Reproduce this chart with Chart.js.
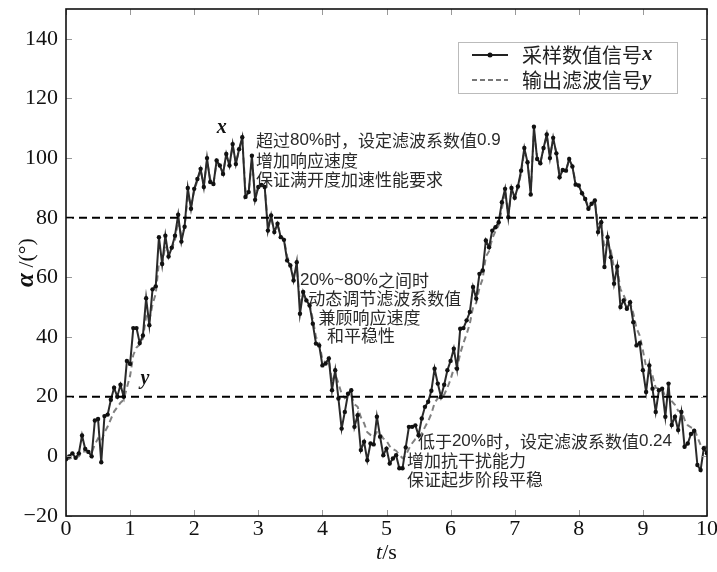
<!DOCTYPE html>
<html>
<head>
<meta charset="utf-8">
<script src="https://cdn.jsdelivr.net/npm/chart.js@4.4.1/dist/chart.umd.min.js"></script>
<style>
    html, body { margin: 0; padding: 0; background: #fff; }
    #wrap { width: 717px; height: 572px; }
</style>
</head>
<body>
<div id="wrap"><canvas id="chart" width="717" height="572"></canvas></div>
<script>
// sampling interval of the signal (s)
const SAMPLE_STEP = 0.05;

// sampled signal x (degrees), one value per sample
const sampledX = [
    -1, 0, 1, -0.5, 1, 7, 2.5, 1.5, 0, 12,
    12.5, -2, 13.5, 14, 19, 23, 20, 24, 20, 32,
    31, 43, 43, 38, 40.5, 53, 44, 56, 57, 73.5,
    64.5, 74, 67, 70, 74, 81, 72, 77, 90, 83,
    89.7, 93, 96.4, 90.3, 100, 92, 91.3, 99.2, 97.5, 94.7,
    101.4, 97.5, 104.7, 98, 103, 107, 87, 88.6, 100.8, 86,
    90.3, 91, 90.3, 75.7, 80.8, 75.2, 78, 73.5, 72.6, 65.7,
    64, 59, 65.1, 47.8, 55.1, 52.3, 50.6, 44.5, 37.8, 37.2,
    30.5, 31.1, 32.8, 22.2, 28.9, 19.4, 9.3, 14.9, 21, 22.2,
    9.9, 13.8, 2.1, 4.9, -1.3, 4.3, 4, 13.3, 6.6, 0.4,
    2.6, -2.4, -0.7, 0.4, -4, -4, 3, 9.9, 9.9, 10.4,
    7.1, 12.7, 16.6, 18.3, 22, 29.4, 24.4, 19.9, 24, 28.9,
    32, 36.1, 29.4, 42.8, 43, 45.6, 48.4, 56.8, 52.9, 61.2,
    62.3, 72.4, 70.1, 75.7, 76.8, 78.5, 85.2, 89.7, 80.2, 90,
    86.7, 90.5, 95.8, 103.4, 98.6, 87.8, 110.5, 99.7, 98.3, 103.4,
    107.9, 100, 106.8, 101.6, 93.6, 96, 95.8, 99.7, 97.2, 91.1,
    90.8, 88.2, 86.3, 83, 84.7, 85.8, 75.2, 78.5, 63.5, 73.5,
    66.8, 57.9, 63.7, 50.1, 52.3, 49.5, 51.7, 45, 37.2, 37.9,
    28.9, 21.6, 30.5, 22.7, 14.9, 22.2, 22.7, 13.3, 24.4, 10.5,
    13.3, 8.8, 14.9, 3.2, 4.3, 7.5, 8.6, -2.9, -4.6, 2.7,
    1
];

// filtered output y (degrees)
const filteredY = [
    -1, -0.8, -0.3, -0.3, 0, 1.5, 1.7, 1.6, 1.2, 4,
    6, 5, 8, 10, 12.5, 15, 16.5, 18, 19, 23,
    27, 34, 36.5, 37.5, 39.5, 47, 45.5, 51, 54.5, 65,
    64.8, 70.5, 68.5, 69.5, 72.5, 79, 74, 76.5, 88, 84,
    89, 92.5, 96, 91, 99, 93, 91.5, 98.5, 97.5, 95,
    101, 98, 104, 98.5, 102.5, 106.5, 89, 88.5, 99.5, 87.5,
    90, 91, 90.5, 77.5, 80, 75.5, 77.5, 74, 73, 67,
    64.5, 60, 63.5, 51.5, 54, 52.5, 51, 46, 40, 38,
    32.5, 31.5, 32.5, 25, 27.5, 24.5, 21, 19.5, 19.9, 20.5,
    17.5, 16.6, 13.1, 11.1, 8.1, 7.2, 6.4, 8.1, 7.7, 6,
    5.2, 3.4, 2.4, 1.9, 0.5, -0.6, 0.3, 2.6, 4.4, 5.8,
    6.1, 7.7, 9.8, 11.8, 14.3, 17.9, 19.5, 19.6, 20.7, 23,
    25.8, 29.5, 29.5, 34.5, 38, 41, 44.5, 50, 51.5, 56.5,
    59.5, 67, 68.8, 73, 75.5, 77.5, 83, 89, 81, 89,
    87, 90, 95, 102.5, 99, 89, 108.5, 100.5, 98.5, 103,
    107.5, 101, 106, 102, 94.5, 96, 96, 99.3, 97.4, 91.7,
    90.9, 88.5, 86.5, 83.5, 84.5, 85.5, 78, 78, 70, 71.5,
    69, 63, 63, 56, 54, 51.5, 51.5, 48, 43, 40.5,
    35.5, 30, 30, 27, 23, 22.7, 22.7, 20, 21, 18.5,
    17.3, 15.3, 15.2, 12.3, 10.4, 9.7, 9.4, 6.5, 3.8, 3.5,
    2.9
];

// threshold lines (20% and 80%)
const thresholds = [20, 80];

const xTicks = [0, 1, 2, 3, 4, 5, 6, 7, 8, 9, 10];
const yTicks = [-20, 0, 20, 40, 60, 80, 100, 120, 140];

// annotation text, anchored in data coordinates (t, value) at the left/middle of each line
const notes = [
    { t: 2.965, v: 105.9, text: "超过80%时，设定滤波系数值0.9" },
    { t: 2.965, v: 99.2, text: "增加响应速度" },
    { t: 2.965, v: 92.7, text: "保证满开度加速性能要求" },
    { t: 3.65, v: 59.1, text: "20%~80%之间时" },
    { t: 3.78, v: 52.9, text: "动态调节滤波系数值" },
    { t: 3.94, v: 46.7, text: "兼顾响应速度" },
    { t: 4.07, v: 40.5, text: "和平稳性" },
    { t: 5.49, v: 4.9, text: "低于20%时，设定滤波系数值0.24" },
    { t: 5.32, v: -1.3, text: "增加抗干扰能力" },
    { t: 5.32, v: -7.9, text: "保证起步阶段平稳" }
];

const curveLabels = [
    { t: 2.43, v: 110, text: "x" },
    { t: 1.23, v: 26, text: "y" }
];

const SERIF = "'Liberation Serif', 'DejaVu Serif', serif";
const CJK = "'Noto Sans CJK SC', 'Noto Sans', sans-serif";
const SANS = "'Liberation Sans', Arial, sans-serif";

function toPoints(values) {
    return values.map((v, i) => ({ x: +(i * SAMPLE_STEP).toFixed(2), y: v }));
}

// draws a list of {text, font} pieces one after another
function drawRuns(ctx, x, y, runs, align) {
    let total = 0;
    runs.forEach((r) => { ctx.font = r.font; total += ctx.measureText(r.text).width; });
    let cx = align === "center" ? x - total / 2 : x;
    runs.forEach((r) => {
        ctx.font = r.font;
        ctx.fillText(r.text, cx, y);
        cx += ctx.measureText(r.text).width;
    });
}

function noteRuns(text) {
    return text.split(/([0-9.%~]+)/).filter(s => s).map((s) => ({
        text: s,
        font: /^[0-9.%~]+$/.test(s) ? "17px " + SANS : "17px " + CJK
    }));
}

const decorPlugin = {
    id: "decor",
    afterDraw(chart) {
        const { ctx, chartArea: a, scales } = chart;
        const xs = scales.x, ys = scales.y;
        ctx.save();

        // inward tick marks
        ctx.strokeStyle = "#999";
        ctx.lineWidth = 1;
        ctx.beginPath();
        xTicks.forEach((t) => {
            const px = Math.round(xs.getPixelForValue(t)) + 0.5;
            ctx.moveTo(px, a.bottom); ctx.lineTo(px, a.bottom - 6);
            ctx.moveTo(px, a.top); ctx.lineTo(px, a.top + 6);
        });
        yTicks.forEach((v) => {
            const py = Math.round(ys.getPixelForValue(v)) + 0.5;
            ctx.moveTo(a.left, py); ctx.lineTo(a.left + 6, py);
            ctx.moveTo(a.right, py); ctx.lineTo(a.right - 6, py);
        });
        ctx.stroke();

        // frame
        ctx.strokeStyle = "#111";
        ctx.lineWidth = 1.6;
        ctx.strokeRect(a.left, a.top, a.right - a.left, a.bottom - a.top);

        // annotations
        ctx.fillStyle = "#2a2a2a";
        ctx.textBaseline = "middle";
        ctx.textAlign = "left";
        notes.forEach((n) => {
            drawRuns(ctx, xs.getPixelForValue(n.t), ys.getPixelForValue(n.v), noteRuns(n.text));
        });

        ctx.fillStyle = "#111";
        ctx.textAlign = "center";
        curveLabels.forEach((c) => {
            ctx.font = "italic bold 20px " + SERIF;
            ctx.fillText(c.text, xs.getPixelForValue(c.t), ys.getPixelForValue(c.v));
        });

        // legend
        ctx.textAlign = "left";
        const lx = a.right - 249, ly = a.top + 33, lw = 219, lh = 51;
        ctx.fillStyle = "#fff";
        ctx.fillRect(lx, ly, lw, lh);
        ctx.strokeStyle = "#bbb";
        ctx.lineWidth = 1;
        ctx.strokeRect(lx + 0.5, ly + 0.5, lw, lh);

        const row1 = ly + 13, row2 = ly + 38;
        ctx.strokeStyle = "#222";
        ctx.lineWidth = 2;
        ctx.beginPath(); ctx.moveTo(lx + 14, row1); ctx.lineTo(lx + 50, row1); ctx.stroke();
        ctx.fillStyle = "#111";
        ctx.beginPath(); ctx.arc(lx + 32, row1, 2.5, 0, Math.PI * 2); ctx.fill();

        ctx.strokeStyle = "#777";
        ctx.setLineDash([5, 3]);
        ctx.beginPath(); ctx.moveTo(lx + 14, row2); ctx.lineTo(lx + 50, row2); ctx.stroke();
        ctx.setLineDash([]);

        ctx.fillStyle = "#222";
        drawRuns(ctx, lx + 64, row1, [
            { text: "采样数值信号", font: "20px " + CJK },
            { text: "x", font: "italic bold 21px " + SERIF }
        ]);
        drawRuns(ctx, lx + 64, row2, [
            { text: "输出滤波信号", font: "20px " + CJK },
            { text: "y", font: "italic bold 21px " + SERIF }
        ]);

        // axis titles
        ctx.fillStyle = "#111";
        drawRuns(ctx, (a.left + a.right) / 2, 553, [
            { text: "t", font: "italic 22px " + SERIF },
            { text: "/s", font: "22px " + SERIF }
        ], "center");

        ctx.translate(27, (a.top + a.bottom) / 2);
        ctx.rotate(-Math.PI / 2);
        drawRuns(ctx, 0, 0, [
            { text: "α", font: "italic bold 25px " + SERIF },
            { text: " /(°)", font: "22px " + SERIF }
        ], "center");

        ctx.restore();
    }
};

function initialiseChart() {
    const canvas = document.getElementById("chart");
    if (!canvas || typeof Chart === "undefined") return;

    const thresholdSets = thresholds.map((level) => ({
        data: [{ x: xTicks[0], y: level }, { x: xTicks[xTicks.length - 1], y: level }],
        borderColor: "#000",
        borderWidth: 2,
        borderDash: [8, 5],
        pointRadius: 0,
        tension: 0
    }));

    new Chart(canvas, {
        type: "line",
        data: {
            datasets: [
                ...thresholdSets,
                {
                    label: "采样数值信号x",
                    data: toPoints(sampledX),
                    borderColor: "#2a2a2a",
                    borderWidth: 2,
                    pointRadius: 2.2,
                    pointBackgroundColor: "#111",
                    pointBorderWidth: 0,
                    tension: 0
                },
                {
                    label: "输出滤波信号y",
                    data: toPoints(filteredY),
                    borderColor: "#808080",
                    borderWidth: 2,
                    borderDash: [6, 4],
                    pointRadius: 0,
                    tension: 0
                }
            ]
        },
        options: {
            responsive: false,
            animation: false,
            devicePixelRatio: 1,
            layout: { padding: { top: 9, right: 10, left: 0, bottom: 0 } },
            plugins: {
                legend: { display: false },
                tooltip: { enabled: false }
            },
            scales: {
                x: {
                    type: "linear",
                    min: 0,
                    max: 10,
                    grid: { display: false, drawTicks: false },
                    border: { display: false },
                    afterBuildTicks: (s) => { s.ticks = xTicks.map(v => ({ value: v })); },
                    afterFit: (s) => { s.height = 56; s.paddingLeft = 0; s.paddingRight = 0; },
                    ticks: {
                        padding: 0,
                        color: "#111",
                        font: { family: SERIF, size: 22 },
                        maxRotation: 0
                    }
                },
                y: {
                    min: -20,
                    max: 150,
                    grid: { display: false, drawTicks: false },
                    border: { display: false },
                    afterBuildTicks: (s) => { s.ticks = yTicks.map(v => ({ value: v })); },
                    afterFit: (s) => { s.width = 66; s.paddingTop = 0; s.paddingBottom = 0; },
                    ticks: {
                        padding: 8,
                        color: "#111",
                        font: { family: SERIF, size: 22 },
                        callback: (v) => String(v).replace("-", "\u2212")
                    }
                }
            }
        },
        plugins: [decorPlugin]
    });
}

initialiseChart();
</script>
</body>
</html>
